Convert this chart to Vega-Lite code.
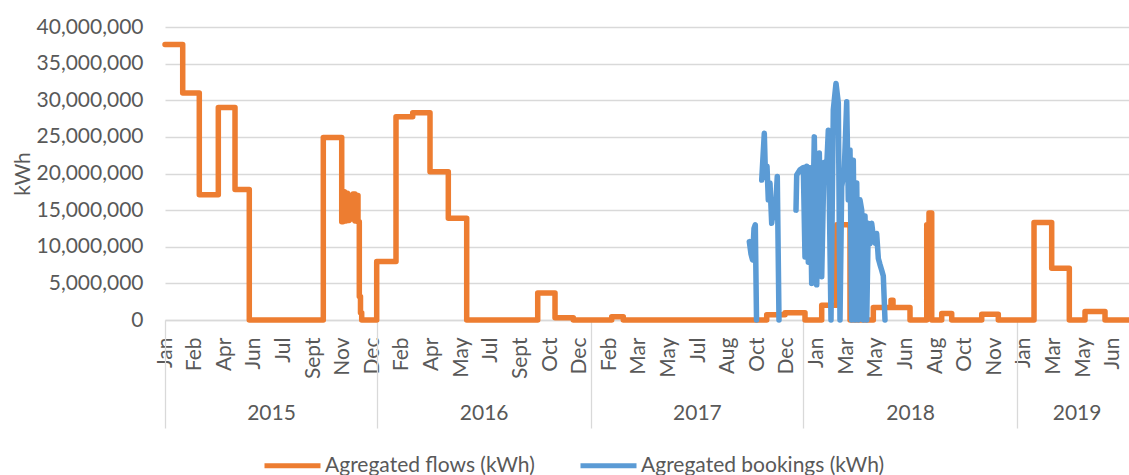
{
  "$schema": "https://vega.github.io/schema/vega-lite/v6.json",
  "width": 964,
  "height": 293,
  "autosize": {"type": "none"},
  "padding": {"left": 165, "top": 27, "right": 0, "bottom": 155},
  "background": "white",
  "config": {
    "view": {"stroke": null},
    "font": "Lato",
    "axis": {"labelFont": "Lato", "titleFont": "Lato", "labelColor": "#595959", "titleColor": "#595959", "labelFontSize": 21, "titleFontSize": 21, "titleFontWeight": "normal"},
    "legend": {"labelFont": "Lato", "labelFontSize": 21, "labelColor": "#595959", "labelLimit": 500}
  },
  "datasets": {
    "flows": [
      {"i": 0, "v": 37600000}, {"i": 0.598, "v": 31000000}, {"i": 1.158, "v": 17100000}, {"i": 1.8, "v": 29000000},
      {"i": 2.364, "v": 17800000}, {"i": 2.846, "v": 0}, {"i": 5.345, "v": 24900000}, {"i": 5.967, "v": 13400000},
      {"i": 6.01, "v": 17500000}, {"i": 6.061, "v": 13500000}, {"i": 6.112, "v": 17300000}, {"i": 6.162, "v": 13600000},
      {"i": 6.213, "v": 17000000}, {"i": 6.281, "v": 13800000}, {"i": 6.348, "v": 17200000}, {"i": 6.416, "v": 13500000},
      {"i": 6.466, "v": 17000000}, {"i": 6.517, "v": 13400000}, {"i": 6.561, "v": 3200000}, {"i": 6.601, "v": 1000000},
      {"i": 6.642, "v": 0}, {"i": 7.148, "v": 8000000}, {"i": 7.8, "v": 27750000}, {"i": 8.364, "v": 28300000},
      {"i": 8.948, "v": 20250000}, {"i": 9.566, "v": 13900000}, {"i": 10.187, "v": 0}, {"i": 12.585, "v": 3700000},
      {"i": 13.169, "v": 300000}, {"i": 13.787, "v": 0}, {"i": 15.083, "v": 450000}, {"i": 15.475, "v": 0},
      {"i": 20.317, "v": 700000}, {"i": 20.935, "v": 1000000}, {"i": 21.61, "v": 0}, {"i": 22.174, "v": 2000000},
      {"i": 22.681, "v": 13000000}, {"i": 23.13, "v": 0}, {"i": 23.917, "v": 1700000}, {"i": 24.514, "v": 2700000},
      {"i": 24.582, "v": 1700000}, {"i": 25.156, "v": 0}, {"i": 25.72, "v": 13000000}, {"i": 25.797, "v": 14600000},
      {"i": 25.889, "v": 0}, {"i": 26.226, "v": 900000}, {"i": 26.564, "v": 0}, {"i": 27.577, "v": 800000},
      {"i": 28.137, "v": 0}, {"i": 29.343, "v": 13300000}, {"i": 29.94, "v": 7050000}, {"i": 30.535, "v": 0},
      {"i": 31.065, "v": 1150000}, {"i": 31.74, "v": 0}, {"i": 32.55, "v": 0}
    ],
    "bookings": [
      {"seg": 1, "i": 19.73, "v": 10700000}, {"seg": 1, "i": 19.787, "v": 9000000}, {"seg": 1, "i": 19.838, "v": 8200000},
      {"seg": 1, "i": 19.888, "v": 12500000}, {"seg": 1, "i": 19.932, "v": 13000000}, {"seg": 1, "i": 19.973, "v": 0},
      {"seg": 2, "i": 20.148, "v": 19100000}, {"seg": 2, "i": 20.236, "v": 25500000}, {"seg": 2, "i": 20.276, "v": 19500000},
      {"seg": 2, "i": 20.327, "v": 21000000}, {"seg": 2, "i": 20.371, "v": 16400000}, {"seg": 2, "i": 20.428, "v": 18700000},
      {"seg": 2, "i": 20.485, "v": 13200000}, {"seg": 2, "i": 20.539, "v": 15200000}, {"seg": 2, "i": 20.597, "v": 14000000},
      {"seg": 2, "i": 20.674, "v": 19600000}, {"seg": 2, "i": 20.732, "v": 0},
      {"seg": 3, "i": 21.306, "v": 15000000}, {"seg": 3, "i": 21.33, "v": 19800000}, {"seg": 3, "i": 21.441, "v": 20500000},
      {"seg": 3, "i": 21.553, "v": 20800000}, {"seg": 3, "i": 21.61, "v": 8600000}, {"seg": 3, "i": 21.667, "v": 21000000},
      {"seg": 3, "i": 21.722, "v": 7900000}, {"seg": 3, "i": 21.779, "v": 20800000}, {"seg": 3, "i": 21.836, "v": 5000000},
      {"seg": 3, "i": 21.924, "v": 25000000}, {"seg": 3, "i": 22.005, "v": 4800000}, {"seg": 3, "i": 22.093, "v": 22800000},
      {"seg": 3, "i": 22.174, "v": 5900000}, {"seg": 3, "i": 22.252, "v": 21500000}, {"seg": 3, "i": 22.343, "v": 20900000},
      {"seg": 3, "i": 22.397, "v": 25900000}, {"seg": 3, "i": 22.488, "v": 0}, {"seg": 3, "i": 22.566, "v": 28700000},
      {"seg": 3, "i": 22.657, "v": 32300000}, {"seg": 3, "i": 22.735, "v": 29600000}, {"seg": 3, "i": 22.792, "v": 0},
      {"seg": 3, "i": 22.849, "v": 18200000}, {"seg": 3, "i": 22.937, "v": 20500000}, {"seg": 3, "i": 23.018, "v": 29800000},
      {"seg": 3, "i": 23.072, "v": 16400000}, {"seg": 3, "i": 23.13, "v": 23200000}, {"seg": 3, "i": 23.187, "v": 0},
      {"seg": 3, "i": 23.241, "v": 21800000}, {"seg": 3, "i": 23.298, "v": 0}, {"seg": 3, "i": 23.356, "v": 18700000},
      {"seg": 3, "i": 23.41, "v": 0}, {"seg": 3, "i": 23.467, "v": 16400000}, {"seg": 3, "i": 23.525, "v": 15000000},
      {"seg": 3, "i": 23.579, "v": 0}, {"seg": 3, "i": 23.636, "v": 14200000}, {"seg": 3, "i": 23.694, "v": 0},
      {"seg": 3, "i": 23.747, "v": 13200000}, {"seg": 3, "i": 23.805, "v": 10400000}, {"seg": 3, "i": 23.862, "v": 13200000},
      {"seg": 3, "i": 23.917, "v": 11400000}, {"seg": 3, "i": 23.974, "v": 10500000}, {"seg": 3, "i": 24.03, "v": 11800000},
      {"seg": 3, "i": 24.086, "v": 8400000}, {"seg": 3, "i": 24.14, "v": 7600000},
      {"seg": 3, "i": 24.2, "v": 6800000}, {"seg": 3, "i": 24.254, "v": 6000000}, {"seg": 3, "i": 24.311, "v": 0}
    ]
  },
  "layer": [
    {
      "data": {"name": "flows"},
      "mark": {"type": "line", "interpolate": "step-after", "strokeWidth": 5.5, "strokeJoin": "round", "strokeCap": "round"},
      "encoding": {
        "x": {"field": "i", "type": "quantitative",
          "scale": {"domain": [0, 32.55], "nice": false, "zero": false},
          "axis": {"orient": "bottom", "title": null, "values": [0,1,2,3,4,5,6,7,8,9,10,11,12,13,14,15,16,17,18,19,20,21,22,23,24,25,26,27,28,29,30,31,32],
            "labelExpr": "['Jan','Feb','Apr','Jun','Jul','Sept','Nov','Dec','Feb','Apr','May','Jul','Sept','Oct','Dec','Feb','Mar','May','Jul','Aug','Oct','Dec','Jan','Mar','May','Jun','Aug','Oct','Nov','Jan','Mar','May','Jun'][datum.value]",
            "labelAngle": 270, "labelAlign": "right", "labelBaseline": "middle", "labelPadding": 17, "labelOverlap": false, "labelFlush": false, "labelBound": false,
            "ticks": false, "grid": false, "domain": true, "domainColor": "#d9d9d9", "domainWidth": 1.3}},
        "y": {"field": "v", "type": "quantitative",
          "scale": {"domain": [0, 40000000], "nice": false},
          "axis": {"title": "kWh", "values": [0,5000000,10000000,15000000,20000000,25000000,30000000,35000000,40000000], "format": ",d",
            "labelOverlap": false, "labelBound": false, "labelFlush": false,
            "ticks": false, "domain": false, "grid": true, "gridColor": "#d9d9d9", "gridWidth": 1.3, "labelPadding": 22, "titlePadding": 3}},
        "color": {"datum": "Agregated flows (kWh)", "type": "nominal",
          "scale": {"domain": ["Agregated flows (kWh)", "Agregated bookings (kWh)"], "range": ["#ED7D31", "#5B9BD5"]},
          "legend": {"title": null, "orient": "none", "legendX": 97, "legendY": 408, "direction": "horizontal", "symbolType": "stroke", "symbolSize": 3136, "symbolStrokeWidth": 5, "labelOffset": 2, "columnPadding": 35, "labelLimit": 500}}
      }
    },
    {
      "data": {"name": "bookings"},
      "mark": {"type": "line", "strokeWidth": 5.5, "strokeJoin": "round", "strokeCap": "round"},
      "encoding": {
        "x": {"field": "i", "type": "quantitative",
          "axis": {"orient": "bottom", "title": null, "values": [0, 7.16, 14.38, 21.55, 28.76, 3.58, 10.76, 17.96, 25.16, 30.78],
            "labelExpr": "datum.value==3.58?'2015':datum.value==10.76?'2016':datum.value==17.96?'2017':datum.value==25.16?'2018':datum.value==30.78?'2019':''",
            "labelAngle": 0, "labelAlign": "center", "labelBaseline": "alphabetic", "labelPadding": -9, "labelOverlap": false, "labelFlush": false, "labelBound": false,
            "ticks": true, "tickSize": 108, "tickColor": "#d9d9d9", "tickWidth": 1.3,
            "tickOpacity": {"condition": {"test": "datum.value==0||datum.value==7.16||datum.value==14.38||datum.value==21.55||datum.value==28.76", "value": 1}, "value": 0},
            "grid": false, "domain": false}},
        "y": {"field": "v", "type": "quantitative",
          "axis": {"title": "kWh", "values": [0,5000000,10000000,15000000,20000000,25000000,30000000,35000000,40000000], "format": ",d",
            "labelOverlap": false, "labelBound": false, "labelFlush": false,
            "ticks": false, "domain": false, "grid": true, "gridColor": "#d9d9d9", "gridWidth": 1.3, "labelPadding": 22, "titlePadding": 3}},
        "detail": {"field": "seg", "type": "nominal"},
        "color": {"datum": "Agregated bookings (kWh)", "type": "nominal"}
      }
    }
  ],
  "resolve": {"axis": {"x": "independent"}}
}
